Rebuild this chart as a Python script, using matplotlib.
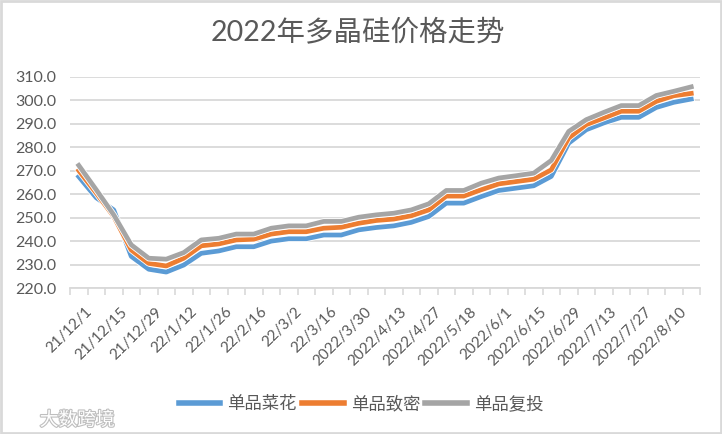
import matplotlib
matplotlib.use('Agg')
import matplotlib.pyplot as plt
import matplotlib.patheffects as pe
import matplotlib.transforms as mtransforms
from matplotlib.patches import Rectangle

plt.rcParams['font.family'] = ['Lato', 'Noto Sans CJK SC', 'DejaVu Sans']

# 日期（每周一个数据点）
dates = ['21/12/1', '21/12/8', '21/12/15', '21/12/22', '21/12/29',
         '22/1/5', '22/1/12', '22/1/19', '22/1/26', '22/2/9', '22/2/16',
         '22/2/23', '22/3/2', '22/3/9', '22/3/16', '22/3/23',
         '2022/3/30', '2022/4/6', '2022/4/13', '2022/4/20', '2022/4/27',
         '2022/5/11', '2022/5/18', '2022/5/25', '2022/6/1', '2022/6/8',
         '2022/6/15', '2022/6/22', '2022/6/29', '2022/7/6', '2022/7/13',
         '2022/7/20', '2022/7/27', '2022/8/3', '2022/8/10', '2022/8/17']

# 单品菜花
caihua = [267.5, 258.5, 253.3, 233.5, 228.0, 226.8, 229.8, 234.8, 235.8, 237.6,
          237.6, 240.0, 241.0, 241.0, 242.6, 242.6, 244.8, 245.8, 246.5, 248.0,
          250.5, 256.2, 256.2, 259.0, 261.6, 262.6, 263.6, 267.6, 281.8, 287.5,
          290.4, 292.8, 292.8, 297.0, 299.2, 300.6]
# 单品致密
zhimi = [270.1, 260.5, 250.5, 236.2, 230.5, 229.4, 232.7, 238.0, 238.8, 240.5,
         240.8, 243.0, 244.0, 244.0, 245.5, 245.9, 247.6, 248.8, 249.4, 250.8,
         253.3, 259.2, 259.2, 261.9, 264.4, 265.4, 266.4, 270.4, 284.0, 289.7,
         292.5, 295.4, 295.4, 299.6, 302.0, 303.0]
# 单品复投
futou = [272.3, 261.9, 251.2, 238.4, 232.7, 232.3, 235.1, 240.5, 241.2, 243.0,
         243.0, 245.5, 246.5, 246.5, 248.4, 248.4, 250.2, 251.2, 251.9, 253.3,
         255.9, 261.6, 261.6, 264.7, 266.9, 267.9, 269.0, 274.4, 286.8, 291.8,
         294.9, 297.8, 297.8, 302.1, 303.9, 305.8]

series = [('单品菜花', caihua, '#5B9BD5'),
          ('单品致密', zhimi, '#ED7D31'),
          ('单品复投', futou, '#A5A5A5')]

text_color = '#595959'
grid_color = '#D9D9D9'

fig = plt.figure(figsize=(7.22, 4.34), dpi=100)
ax = fig.add_axes([70 / 722, 146 / 434, 630 / 722, 211 / 434])

x = list(range(len(dates)))
for name, vals, color in series:
    ax.plot(x, vals, color=color, linewidth=3.4, label=name, solid_joinstyle='round',
            path_effects=[pe.Stroke(linewidth=4.6, foreground='white'), pe.Normal()])

ax.set_xlim(-0.5, len(dates) - 0.5)
ax.set_ylim(220, 310)
ax.set_yticks(range(220, 311, 10))
ax.set_yticklabels([f'{v:.1f}' for v in range(220, 311, 10)])
ax.yaxis.grid(True, color=grid_color, linewidth=1.3)
ax.set_axisbelow(True)

# x 轴标签每隔一个显示
ax.set_xticks(x[::2])
ax.set_xticklabels(dates[::2], rotation=45, ha='right', rotation_mode='anchor')
ax.set_xticks([i - 0.5 for i in range(len(dates) + 1)], minor=True)
ax.tick_params(axis='x', which='major', length=0, pad=12, labelsize=11, labelcolor=text_color)
ax.tick_params(axis='x', which='minor', length=5, width=1.2, color=grid_color)
ax.tick_params(axis='y', length=0, pad=10, labelsize=11.5, labelcolor=text_color)
shift = mtransforms.ScaledTranslation(6 / 100, 0, fig.dpi_scale_trans)
for lbl in ax.get_xticklabels():
    lbl.set_transform(lbl.get_transform() + shift)

for s in ['top', 'right', 'left']:
    ax.spines[s].set_visible(False)
ax.spines['bottom'].set_color(grid_color)
ax.spines['bottom'].set_linewidth(1.3)

fig.text(0.496, 0.927, '2022年多晶硅价格走势', ha='center', va='center',
         fontsize=20.5, color=text_color)

leg = fig.legend(loc='center', bbox_to_anchor=(0.5, 0.069), ncol=3, frameon=False,
                 fontsize=12.5, handlelength=2.4, handletextpad=0.4, columnspacing=0.3)
for t in leg.get_texts():
    t.set_color(text_color)
for h in leg.get_lines():
    h.set_linewidth(4)
    h.set_path_effects([])

# 水印
fig.text(0.055, 0.033, '大数跨境', ha='left', va='center', fontsize=13.5, color='white',
         path_effects=[pe.Stroke(linewidth=1.6, foreground='#BFBFBF'), pe.Normal()])

# 图表边框
fig.patches.append(Rectangle((0.001, 0.002), 0.997, 0.996, transform=fig.transFigure,
                             fill=False, edgecolor=grid_color, linewidth=2))

fig.savefig('out.png', dpi=100)
